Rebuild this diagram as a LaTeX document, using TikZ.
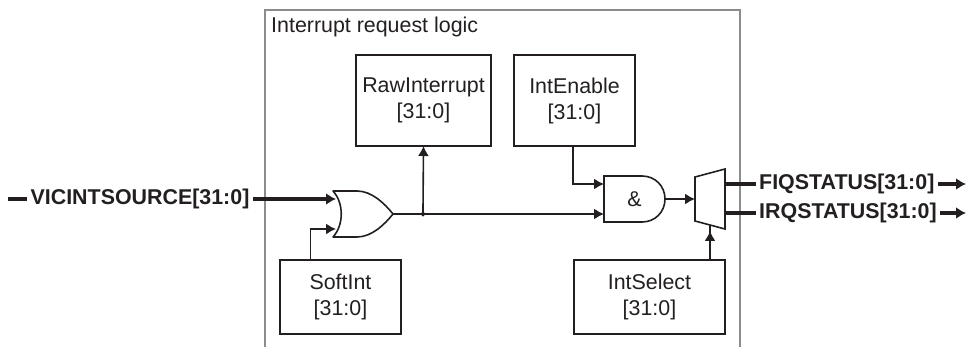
\documentclass[tikz,border=0pt]{standalone}
\usepackage{fontspec}
\setmainfont{Liberation Sans}
\usetikzlibrary{arrows.meta}
\usetikzlibrary{positioning}
\definecolor{ink}{HTML}{231F20}
\tikzset{>={Latex[length=10pt,width=11pt]}, font=\fontsize{21.4}{26}\selectfont, text=ink}
\tikzstyle{wire} = [draw=ink, line width=1.6pt]
\tikzstyle{bus} = [draw=ink, line width=3.8pt, >={Latex[length=10pt,width=12pt]}]
\tikzstyle{block} = [draw=ink, line width=1.6pt, rectangle, outer sep=0pt, inner sep=0pt, align=center]
\tikzstyle{gatebox} = [rectangle, outer sep=0pt, inner sep=0pt]
\tikzstyle{signal} = [inner sep=3.5pt, font=\fontsize{21.4}{26}\selectfont\bfseries]
\tikzstyle{junction} = [draw=ink, circle, fill=ink, minimum size=3pt, inner sep=0pt, outer sep=0pt, anchor=center]
\tikzstyle{input} = [coordinate]
\tikzstyle{output} = [coordinate]

\begin{document}
\begin{tikzpicture}[x=1pt,y=-1pt]
    \useasboundingbox (0,0) rectangle (968,347);
    \coordinate (frame_l) at (265,347);
    \coordinate (frame_tl) at (265,10);
    \coordinate (frame_tr) at (740,10);
    \coordinate (frame_r) at (740,347);
    \draw [draw=gray!90, line width=1.4pt] (frame_l) -- (frame_tl) -- (frame_tr) -- (frame_r);
    \node [anchor=west, inner sep=0pt] (title) at (271,27) {Interrupt request logic};

    \node [block, minimum width=135pt, minimum height=91pt] (rawint) at (423.5,100.5) {RawInterrupt\\{[31:0]}};
    \node [block, right=23pt of rawint, minimum width=121pt, minimum height=91pt] (intenable) {IntEnable\\{[31:0]}};
    \node [block, minimum width=121pt, minimum height=74pt] (softint) at (340.5,297) {SoftInt\\{[31:0]}};
    \node [block, right=173pt of softint, minimum width=151pt, minimum height=74pt] (intselect) {IntSelect\\{[31:0]}};

    \node [gatebox, minimum width=60pt, minimum height=46pt] (orgate) at (363,214) {};
    \node [gatebox, minimum width=61pt, minimum height=46pt] (andgate) at (634.5,199) {\&};
    \node [gatebox, minimum width=30pt, minimum height=60pt] (mux) at (710,199) {};
    \draw [wire, line join=round] (orgate.north west) -- ++(24,0) .. controls +(15,0) and +(-8,-10) .. (orgate.east)
        .. controls +(-8,10) and +(15,0) .. ([xshift=24pt]orgate.south west) -- (orgate.south west)
        .. controls +(11,-12) and +(11,12) .. (orgate.north west) -- cycle;
    \draw [wire] (andgate.north west) -- ++(38,0) .. controls +(13,0) and +(0,-13) .. (andgate.east)
        .. controls +(0,13) and +(13,0) .. ([xshift=38pt]andgate.south west) -- (andgate.south west) -- cycle;
    \draw [wire] (mux.north east) -- (mux.south east) -- ([yshift=8pt]mux.south west) -- ([yshift=-8pt]mux.north west) -- cycle;

    \node [signal] (vicsrc) at (140,199) {VICINTSOURCE[31:0]};
    \node [signal, anchor=west] (fiq) at (755.5,184) {FIQSTATUS[31:0]};
    \node [signal, anchor=west] (irq) at (755.5,213) {IRQSTATUS[31:0]};
    \node [input] (vicsrc_in) at (8,199) {};
    \node [output] (fiq_out) at (966,184) {};
    \node [output] (irq_out) at (966,213) {};

    \draw [bus] (vicsrc_in) -- (vicsrc);
    \draw [bus,->] (vicsrc) -- ([xshift=3pt,yshift=15pt]orgate.west);
    \draw [wire,->] ([xshift=-30pt]softint.north) |- ([xshift=3pt,yshift=-15pt]orgate.west);
    \draw [wire,->] (orgate.east) -- node [junction, name=or_tap, pos=0.142] {} ([yshift=-15pt]andgate.west);
    \draw [wire,->] (or_tap) -- (rawint.south);
    \draw [wire,->] ([xshift=-1.5pt]intenable.south) |- ([yshift=15pt]andgate.west);
    \draw [wire,->] (andgate.east) -- (mux.west);
    \draw [wire,->] (intselect.north -| mux.south) -- ([yshift=-2pt]mux.south);
    \draw [wire] (intselect.north -| mux.south) -- ([yshift=4pt]mux.south);
    \draw [bus] (mux.east |- fiq) -- (fiq);
    \draw [bus] (mux.east |- irq) -- (irq);
    \draw [bus,->] (fiq) -- (fiq_out);
    \draw [bus,->] (irq) -- (irq_out);
\end{tikzpicture}
\end{document}
